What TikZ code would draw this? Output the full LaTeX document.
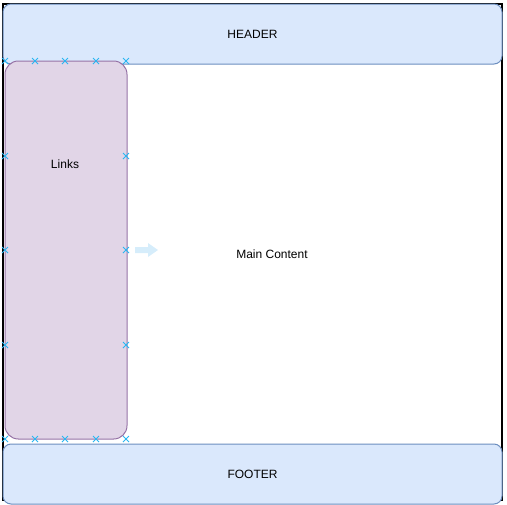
\documentclass[tikz,border=0pt]{standalone}
\usepackage{fontspec}
\setmainfont{Liberation Sans}
\usetikzlibrary{shapes.misc}
\definecolor{hdrfill}{HTML}{DAE8FC}
\definecolor{hdrline}{HTML}{6C8EBF}
\definecolor{lnkfill}{HTML}{E1D5E7}
\definecolor{lnkline}{HTML}{9673A6}
\definecolor{ptblue}{HTML}{29B6F2}
\definecolor{hintblue}{HTML}{D6EDFB}
\tikzset{
  bar/.style={draw=hdrline, fill=hdrfill, line width=0.75pt, rounded corners=6pt,
    minimum width=374.25pt, minimum height=45pt, inner sep=0pt},
  side/.style={draw=lnkline, fill=lnkfill, line width=0.75pt, rounded corners=10pt,
    minimum width=91.5pt, minimum height=283.5pt, inner sep=0pt},
  cpoint/.style={cross out, draw=ptblue, line width=0.7pt, minimum size=3.8pt, inner sep=0pt},
  txt/.style={font=\fontsize{9}{11}\selectfont}
}

\begin{document}
\begin{tikzpicture}[x=0.75pt,y=-0.75pt]
    \useasboundingbox (0,0) rectangle (507,504);

    \node (main) [draw=black, line width=1.1pt, minimum width=374.25pt, minimum height=372pt, inner sep=0pt] at (252.5,252) {};
    \node (maintxt) [txt] at (272,254) {Main Content};

    \node (header) [bar] at (252.5,34) {};
    \node (headertxt) [txt] at (252.5,34) {HEADER};
    \node (footer) [bar] at (252.5,474) {};
    \node (footertxt) [txt] at (252.5,474) {FOOTER};

    \node (links) [side] at (66,250) {};
    \node (linkstxt) [txt] at (65,164) {Links};

    % connection points round the links box
    \foreach \x [count=\i] in {5,35,65,96,126} {
        \node (t\i) [cpoint] at (\x,61) {};
        \node (b\i) [cpoint] at (\x,439) {};
    }
    \foreach \y [count=\i] in {156,250,345} {
        \node (l\i) [cpoint] at (5,\y) {};
        \node (r\i) [cpoint] at (126,\y) {};
    }

    % hover arrow
    \fill[hintblue] (135,247) -- (148,247) -- (148,243) -- (158,250) -- (148,257) -- (148,253) -- (135,253) -- cycle;
\end{tikzpicture}
\end{document}
